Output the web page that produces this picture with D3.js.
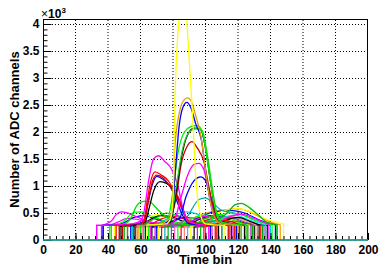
<!DOCTYPE html>
<html>
<head>
<meta charset="UTF-8">
<title>ADC waveforms</title>
<style>
    body { margin: 0; background: #fff; }
    svg { display: block; }
    text { font-family: "Liberation Sans", Arial, Helvetica, sans-serif; font-weight: bold; fill: #000; }
</style>
<script src="https://d3js.org/d3.v7.min.js"></script>
</head>
<body>
<script>
    const width = 379;
    const height = 265;

    // axis ticks
    const xTickValues = [0, 20, 40, 60, 80, 100, 120, 140, 160, 180, 200];
    const yTickValues = [0, 0.5, 1, 1.5, 2, 2.5, 3, 3.5, 4];

    // small waveforms: [bin, ADC/1000] from window start to window end
    const smallColors = ["#ff00ff", "#0000ff", "#00ff00", "#ffff00", "#000000", "#00aa00", "#ff0000", "#00cccc",
        "#9900cc", "#ff9900", "#ff6699", "#0000ff", "#00ff00", "#000000", "#ff00ff", "#ffff00", "#ff0000",
        "#00aaaa", "#00aa00", "#5954d8", "#ff66cc", "#00ff00", "#ff0000", "#ff8080", "#00dddd", "#ffff00",
        "#000000", "#ff00ff", "#00cc00", "#ff0000"];
    const smallWaves = [
        [[33,0.27],[40,0.27],[46,0.33],[52,0.4],[58,0.38],[66,0.33],[80,0.3],[95,0.28],[104,0.27]],
        [[37,0.27],[48,0.3],[56,0.42],[62,0.45],[68,0.4],[76,0.33],[90,0.28],[110,0.27]],
        [[41,0.26],[50,0.35],[55,0.5],[60,0.52],[66,0.45],[74,0.36],[90,0.28],[118,0.27]],
        [[44,0.25],[58,0.27],[64,0.4],[70,0.47],[76,0.42],[84,0.33],[100,0.27],[124,0.26]],
        [[47,0.25],[60,0.28],[66,0.38],[72,0.45],[78,0.44],[86,0.35],[100,0.28],[130,0.27]],
        [[50,0.26],[62,0.3],[70,0.42],[76,0.5],[82,0.46],[90,0.36],[105,0.29],[135,0.27]],
        [[52,0.25],[65,0.28],[72,0.38],[80,0.44],[88,0.38],[96,0.3],[115,0.27]],
        [[55,0.27],[70,0.3],[80,0.45],[88,0.52],[96,0.47],[104,0.36],[120,0.29],[140,0.27]],
        [[57,0.24],[72,0.27],[80,0.36],[88,0.42],[96,0.38],[106,0.3],[128,0.27]],
        [[59,0.25],[80,0.28],[92,0.4],[100,0.5],[110,0.55],[120,0.58],[130,0.48],[140,0.33],[146,0.28]],
        [[61,0.24],[78,0.27],[86,0.35],[94,0.42],[100,0.37],[108,0.3],[120,0.27]],
        [[63,0.25],[85,0.28],[95,0.4],[105,0.52],[115,0.55],[124,0.5],[134,0.36],[143,0.28]],
        [[65,0.26],[84,0.28],[92,0.4],[100,0.46],[108,0.42],[118,0.32],[132,0.27]],
        [[67,0.24],[88,0.27],[96,0.38],[104,0.45],[112,0.42],[122,0.33],[138,0.27]],
        [[69,0.25],[86,0.28],[94,0.38],[100,0.44],[108,0.38],[116,0.3],[126,0.27]],
        [[71,0.26],[92,0.28],[102,0.42],[112,0.55],[120,0.58],[128,0.52],[138,0.38],[148,0.3]],
        [[73,0.24],[92,0.27],[100,0.36],[108,0.42],[116,0.38],[124,0.31],[134,0.27]],
        [[75,0.26],[84,0.3],[88,0.4],[96,0.75],[100,0.78],[104,0.7],[110,0.55],[118,0.5],[124,0.45],[134,0.33],[144,0.28]],
        [[77,0.25],[92,0.28],[100,0.4],[108,0.47],[115,0.4],[122,0.31],[129,0.27]],
        [[79,0.25],[94,0.28],[102,0.36],[110,0.44],[118,0.4],[126,0.31],[136,0.27]],
        [[81,0.24],[96,0.27],[104,0.34],[110,0.38],[116,0.33],[122,0.27]],
        [[83,0.25],[98,0.3],[106,0.42],[114,0.5],[122,0.47],[130,0.37],[141,0.28]],
        [[85,0.24],[98,0.27],[104,0.33],[110,0.35],[118,0.27]],
        [[87,0.25],[100,0.28],[108,0.38],[116,0.44],[124,0.36],[131,0.28]],
        [[89,0.24],[102,0.28],[110,0.4],[118,0.46],[126,0.38],[137,0.28]],
        [[91,0.25],[104,0.28],[110,0.35],[116,0.38],[122,0.31],[127,0.27]],
        [[93,0.24],[104,0.27],[112,0.36],[120,0.42],[127,0.35],[133,0.28]],
        [[95,0.25],[106,0.3],[114,0.42],[122,0.48],[130,0.4],[139,0.29]],
        [[97,0.24],[106,0.27],[112,0.33],[118,0.35],[125,0.28]],
        [[99,0.25],[106,0.28],[112,0.36],[117,0.33],[121,0.28]]
    ];

    // large pulses
    const bigColors = ["#00bb00", "#ff00ff", "#00dd00", "#000000", "#0000ff", "#dd0000", "#ff0000", "#ff00ff",
        "#0000ff", "#ff00ff", "#cc0000", "#000000", "#22cc22", "#00ee00", "#0000ff", "#e0a000", "#ffff00"];
    const bigWaves = [
        [[52,0.27],[90,0.3],[105,0.35],[110,0.42],[114,0.52],[118,0.65],[122,0.68],[127,0.6],[133,0.45],[138,0.32],[144,0.28]],
        [[36,0.27],[42,0.35],[45,0.47],[48,0.52],[52,0.5],[56,0.45],[60,0.4],[64,0.35],[75,0.28],[102,0.27]],
        [[42,0.27],[50,0.3],[54,0.4],[57,0.6],[60,0.7],[64,0.72],[67,0.68],[71,0.55],[75,0.45],[80,0.35],[90,0.28],[110,0.27]],
        [[48,0.27],[60,0.3],[63,0.35],[65,0.55],[68,0.9],[72,1.08],[76,1.05],[80,0.95],[84,0.7],[88,0.4],[92,0.3],[108,0.27]],
        [[37,0.27],[58,0.3],[62,0.35],[64,0.6],[67,1.0],[70,1.18],[74,1.12],[78,1.0],[82,0.75],[86,0.45],[90,0.3],[103,0.27]],
        [[47,0.27],[61,0.3],[63,0.4],[65,0.75],[67.5,1.1],[70,1.2],[74,1.15],[78,1.0],[82,0.8],[86,0.55],[90,0.33],[107,0.27]],
        [[45,0.27],[60,0.3],[62,0.35],[64,0.7],[66,1.05],[69,1.26],[73,1.2],[77,1.1],[81,0.9],[84,0.75],[87,0.5],[90,0.33],[106,0.27]],
        [[33,0.27],[45,0.28],[55,0.3],[60,0.35],[62,0.5],[65,1.1],[68,1.5],[71,1.56],[75,1.45],[79,1.32],[83,1.0],[86,0.6],[89,0.35],[100,0.27]],
        [[70,0.27],[84,0.4],[88,0.8],[93,1.1],[97,1.17],[100,1.1],[103,0.8],[106,0.5],[110,0.3],[119,0.27]],
        [[66,0.27],[80,0.32],[85,0.8],[89,1.2],[93,1.4],[96,1.42],[99,1.3],[102,0.9],[105,0.55],[108,0.35],[117,0.27]],
        [[49,0.27],[76,0.32],[82,0.8],[85,1.4],[89,1.75],[91.7,1.82],[95,1.7],[99,1.45],[102,1.0],[105,0.6],[108,0.35],[114,0.27]],
        [[56,0.27],[78,0.32],[82,0.9],[85,1.5],[89,1.95],[93,2.07],[97,2.05],[100,1.7],[103,1.1],[106,0.55],[109,0.35],[124,0.27]],
        [[62,0.27],[78,0.35],[82,1.0],[86,1.7],[90,2.0],[94,2.06],[98,2.02],[101,1.6],[104,1.0],[107,0.5],[111,0.32],[126,0.27]],
        [[60,0.27],[76,0.32],[80,0.9],[83,1.6],[87,2.0],[91,2.1],[95,2.12],[98,2.0],[101,1.5],[104,0.9],[107,0.45],[110,0.32],[122,0.27]],
        [[54,0.27],[74,0.3],[79,0.45],[81.5,1.3],[83.7,2.09],[86,2.45],[88.5,2.55],[91,2.45],[94,2.15],[97.5,1.85],[100,1.3],[103,0.7],[106,0.4],[110,0.3],[116,0.27]],
        [[58,0.27],[72,0.3],[78,0.4],[80,0.8],[81,1.67],[84.3,2.41],[87,2.6],[89,2.63],[91.5,2.55],[94,2.3],[97,1.95],[100,1.3],[103,0.7],[106,0.4],[110,0.3],[120,0.27]],
        [[64,0.28],[76,0.3],[79,0.45],[80.2,0.93],[81.2,2.59],[82.6,3.61],[83.7,4.1],[86,4.6],[88.4,4.1],[89.4,3.61],[91.5,2.59],[94.6,0.93],[97,0.45],[100,0.3],[112,0.27]]
    ];

    const svg = d3.select("body").append("svg")
        .attr("width", width)
        .attr("height", height);

    const x = d3.scaleLinear().domain([0, 200]).range([43, 368]);
    const y = d3.scaleLinear().domain([0, 4.096]).range([240, 18.8]);

    // grid
    svg.append("g").selectAll("line")
        .data(xTickValues.slice(1, -1))
        .enter().append("line")
        .attr("x1", d => x(d)).attr("x2", d => x(d))
        .attr("y1", y.range()[0]).attr("y2", y.range()[1])
        .attr("stroke", "#000").attr("stroke-dasharray", "1,2");
    svg.append("g").selectAll("line")
        .data(yTickValues.slice(1))
        .enter().append("line")
        .attr("x1", x.range()[0]).attr("x2", x.range()[1])
        .attr("y1", d => Math.round(y(d)) + 0.5).attr("y2", d => Math.round(y(d)) + 0.5)
        .attr("stroke", "#000").attr("stroke-dasharray", "1,2");

    // waveforms
    svg.append("clipPath").attr("id", "clip")
        .append("rect").attr("x", 43).attr("y", 18.8).attr("width", 325).attr("height", 221.2);

    const line = d3.line()
        .x(d => x(d[0]))
        .y(d => y(d[1]))
        .curve(d3.curveMonotoneX);

    function wavePath(pts) {
        const s = pts[0][0], e = pts[pts.length - 1][0];
        return "M" + x(s) + "," + y(0) + line(pts).replace(/^M/, "L") + "L" + x(e) + "," + y(0);
    }

    const plot = svg.append("g").attr("clip-path", "url(#clip)");
    plot.selectAll("path.small")
        .data(smallWaves)
        .enter().append("path")
        .attr("class", "small")
        .attr("d", wavePath)
        .attr("fill", "none")
        .attr("stroke", (d, i) => smallColors[i])
        .attr("stroke-width", 1.2);
    plot.selectAll("path.big")
        .data(bigWaves)
        .enter().append("path")
        .attr("class", "big")
        .attr("d", wavePath)
        .attr("fill", "none")
        .attr("stroke", (d, i) => bigColors[i])
        .attr("stroke-width", 1.3);

    // frame
    svg.append("rect")
        .attr("x", 43.5).attr("y", 19.5)
        .attr("width", 324).attr("height", 220.5)
        .attr("fill", "none").attr("stroke", "#000");

    // axes
    const yAxis = svg.append("g")
        .attr("transform", "translate(43.5,0)")
        .call(d3.axisLeft(y).tickValues(yTickValues).tickSize(-8).tickPadding(4).tickFormat(d3.format("~g")));
    const yMinor = svg.append("g")
        .attr("transform", "translate(43.5,0)")
        .call(d3.axisLeft(y).tickValues(d3.range(0, 4.05, 0.1)).tickSize(-4).tickFormat(""));
    const xAxis = svg.append("g")
        .attr("transform", "translate(0,240)")
        .call(d3.axisBottom(x).tickValues(xTickValues).tickSize(-7).tickPadding(5).tickFormat(d3.format("d")));
    const xMinor = svg.append("g")
        .attr("transform", "translate(0,240)")
        .call(d3.axisBottom(x).tickValues(d3.range(0, 201, 4)).tickSize(-4).tickFormat(""));

    [yAxis, yMinor, xAxis, xMinor].forEach(g => {
        g.select(".domain").remove();
        g.selectAll("line").attr("stroke", "#000");
        g.selectAll("text")
            .style("font-family", "'Liberation Sans', Arial, sans-serif")
            .style("font-weight", "bold")
            .style("font-size", "12px");
    });

    // zero line drawn by the last histogram
    svg.append("line")
        .attr("x1", 43).attr("x2", 368)
        .attr("y1", 240).attr("y2", 240)
        .attr("stroke", "#1aa89c").attr("stroke-width", 1.6);

    // titles
    svg.append("text")
        .attr("x", 205.5).attr("y", 264)
        .attr("text-anchor", "middle")
        .style("font-size", "13px")
        .text("Time bin");
    svg.append("text")
        .attr("transform", "translate(18.5,129.5) rotate(-90)")
        .attr("text-anchor", "middle")
        .style("font-size", "13px")
        .text("Number of ADC channels");

    const expo = svg.append("text")
        .attr("x", 41).attr("y", 17.5)
        .style("font-size", "12px");
    expo.append("tspan").style("font-weight", "normal").text("\u00d7");
    expo.append("tspan").text("10");
    expo.append("tspan").attr("dy", -5).style("font-size", "8px").text("3");
</script>
</body>
</html>
